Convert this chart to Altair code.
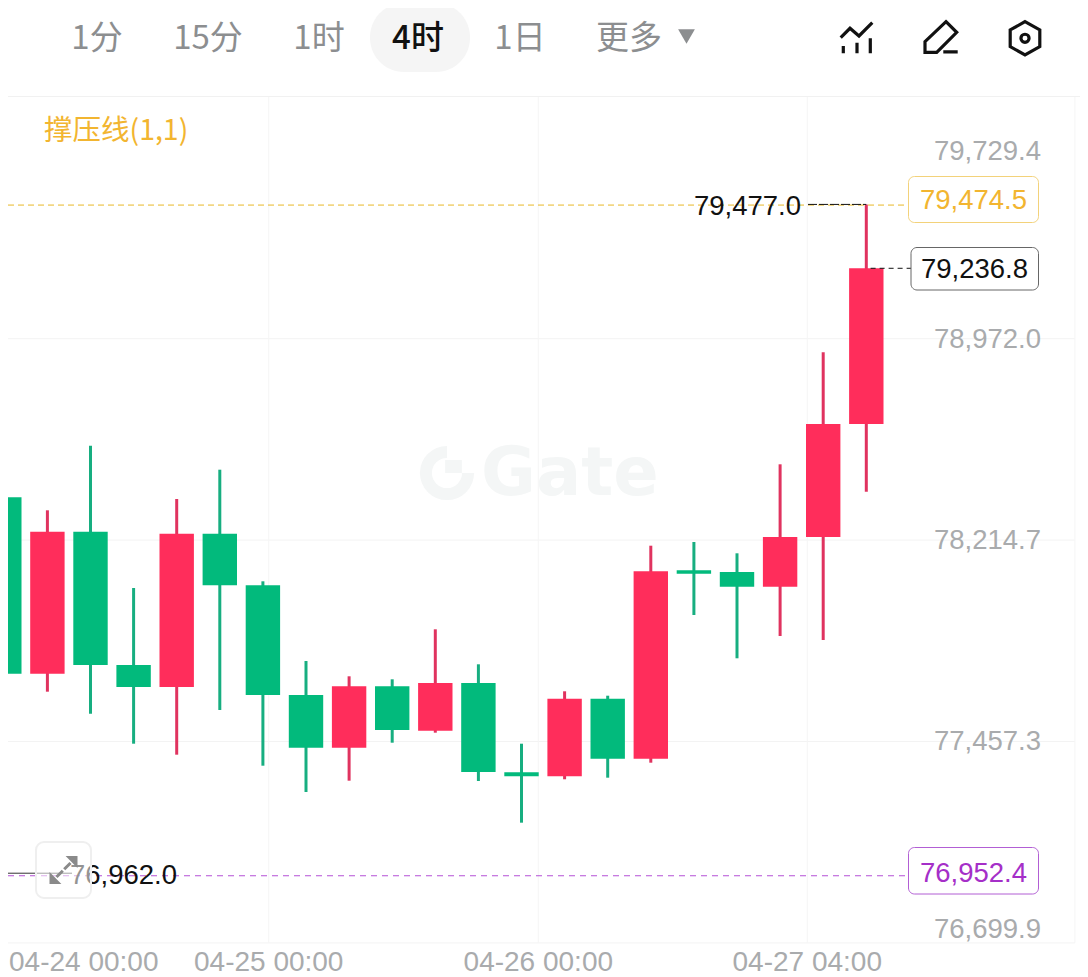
import altair as alt
import pandas as pd

# ---- chart values ----
opens  = [78375.6, 77712.3, 78246.2, 77745.0, 77662.3, 78238.7, 78044.7, 77632.2, 77434.0, 77664.9, 77497.9,
          77677.3, 77341.5, 77326.4, 77618.3, 77392.6, 78101.1, 78094.7, 78039.4, 78226.3, 78651.2]
closes = [77712.3, 78246.2, 77745.0, 77662.3, 78238.7, 78044.7, 77632.2, 77434.0, 77664.9, 77500.6, 77677.3,
          77342.6, 77326.4, 77618.3, 77392.6, 78097.3, 78088.3, 78039.4, 78226.3, 78651.2, 79236.8]
highs  = [78503.5, 78326.7, 78569.6, 78034.5, 78369.2, 78479.4, 78059.7, 77760.0, 77702.5, 77691.2, 77879.2,
          77747.6, 77449.0, 77646.1, 77629.5, 78193.6, 78207.5, 78165.0, 78499.7, 78920.9, 79477.0]
lows   = [76962.0, 77644.6, 77561.8, 77449.0, 77407.7, 77575.8, 77366.3, 77267.4, 77309.9, 77452.8, 77490.4,
          77308.8, 77152.0, 77315.2, 77321.2, 77377.6, 77933.0, 77770.2, 77854.0, 77839.0, 78396.7]

price_ticks = [79729.4, 78972.0, 78214.7, 77457.3, 76699.9]
grid_prices = [78972.0, 78214.7, 77457.3, 76699.9]
grid_top_price = 79880.9
time_labels = ["04-24 00:00", "04-25 00:00", "04-26 00:00", "04-27 04:00"]
time_ticks  = [-0.10, 6.135, 12.39, 18.63]
grid_end_tick = 24.84

last_price = 79236.8
high_price = 79477.0
low_price = 76962.0
resist_price = 79474.5
support_price = 76952.4

tabs = ["1分", "15分", "1时", "4时", "1日", "更多"]
tab_centers = [97, 208, 319, 418, 520, 629]

# ---- styles ----
UP, DOWN = "#FF2D5B", "#02BA7C"
UP_W, DOWN_W = "#E0335F", "#17AE80"
AMBER, PURPLE = "#F2B530", "#A52FC8"
TICK = "#A9ABAD"
WM = "#F4F6F6"
NUM_FONT = "Liberation Sans"
CJK = "Noto Sans CJK SC"
W, H = 1072, 969

xs = alt.Scale(domain=[0.0858, 24.9582], range=[0, W], nice=False, zero=False, padding=0)
ys = alt.Scale(domain=[76571.7, 80215.6], range=[H, 0], nice=False, zero=False, padding=0)
X = alt.X("i:Q", scale=xs, axis=None)
X2 = alt.X2("i2:Q")
Y = alt.Y("p:Q", scale=ys, axis=None)
Y2 = alt.Y2("p2:Q")


def px(v):
    return alt.value(v - 8)


def pxrect(x0, x1, y0, y1, **kw):
    return alt.Chart(pd.DataFrame({"a": [0]})).mark_rect(**kw).encode(
        x=px(x0), x2=px(x1), y=px(y0), y2=px(y1))


def label(text, x, price=None, y=None, **kw):
    d = {"t": [text]}
    enc = {"text": "t:N", "x": px(x)}
    if price is not None:
        d["p"] = [price]
        enc["y"] = Y
    else:
        enc["y"] = px(y)
    kw.setdefault("baseline", "middle")
    return alt.Chart(pd.DataFrame(d)).mark_text(**kw).encode(**enc)


def icon(path, cx, cy, half, **kw):
    return alt.Chart(pd.DataFrame({"a": [0]})).mark_point(shape=path, size=(2 * half) ** 2, opacity=1, **kw).encode(
        x=px(cx), y=px(cy))


layers = []

# ---- header ----
layers.append(pxrect(370, 470, 3, 72, fill="#F5F5F5", cornerRadius=34))
for name, c in zip(tabs, tab_centers):
    active = name == "4时"
    layers.append(label(name, c, y=39, align="center", font=CJK, fontSize=33,
                        fontWeight=500 if active else 400,
                        color="#111111" if active else "#8C8E90"))
layers.append(icon("M-0.7 -0.6L0.7 -0.6L0 0.6Z", 686.5, 36.5, 12, filled=True, fill="#8C8E90", strokeWidth=0))

# toolbar icons (normalised symbol paths)
layers.append(icon("M-0.815 -0.015L-0.35 -0.485L0.1 -0.1L0.765 -0.765 "
                   "M-0.685 0.4L-0.685 0.765 M0 0.235L0 0.765 M0.665 0.015L0.665 0.765",
                   857, 38, 20, filled=False, stroke="#111111", strokeWidth=3.2))
layers.append(icon("M0.2 -0.815L0.735 -0.285L-0.265 0.715L-0.85 0.715L-0.85 0.185Z "
                   "M0.065 0.69L0.785 0.69",
                   942, 38, 20, filled=False, stroke="#111111", strokeWidth=3.2))
layers.append(icon("M0 -0.9L0.8 -0.45L0.8 0.45L0 0.9L-0.8 0.45L-0.8 -0.45Z "
                   "M0.22 0A0.22 0.22 0 1 1 -0.22 0A0.22 0.22 0 1 1 0.22 0Z",
                   1025, 38.3, 18.5, filled=False, stroke="#111111", strokeWidth=3.2))
layers.append(pxrect(8, 1080, 96, 97, fill="#F1F1F1"))

# ---- grid ----
gh = pd.DataFrame({"p": grid_prices, "i": [0.0858] * len(grid_prices), "i2": [grid_end_tick] * len(grid_prices)})
layers.append(alt.Chart(gh).mark_rule(color="#F3F3F3", strokeWidth=1).encode(x=X, x2=X2, y=Y))
gv = pd.DataFrame({"i": time_ticks[1:] + [grid_end_tick], "p": [grid_top_price] * 4, "p2": [grid_prices[-1]] * 4})
layers.append(alt.Chart(gv).mark_rule(color="#F5F5F5", strokeWidth=1).encode(x=X, y=Y, y2=Y2))

# ---- watermark ----
layers.append(label("Gate", 481, y=475, align="left", font="DejaVu Sans", fontSize=67, fontWeight=700, color=WM))
layers.append(icon("M0 -0.78A0.78 0.78 0 1 0 0.78 0", 447, 473, 27, filled=False, stroke=WM, strokeWidth=12))
layers.append(icon("M-0.07 -0.48L0.55 -0.48L0.55 0L-0.07 0Z", 447, 473, 27, filled=True, fill=WM, strokeWidth=0))

# ---- indicator name ----
layers.append(label("撑压线(1,1)", 44, y=131, align="left", font=CJK, fontSize=28.5, color=AMBER))

# ---- support / resistance lines ----
lvl = pd.DataFrame({"p": [resist_price], "i": [0.0858], "i2": [(908.3 - 4.3) / 43.1]})
layers.append(alt.Chart(lvl).mark_rule(color="#E8B828", strokeWidth=1, strokeDash=[6, 4]).encode(x=X, x2=X2, y=Y))
lvl2 = pd.DataFrame({"p": [support_price], "i": [0.0858], "i2": [(908.3 - 4.3) / 43.1]})
layers.append(alt.Chart(lvl2).mark_rule(color="#B44FD6", strokeWidth=1, strokeDash=[6, 5]).encode(x=X, x2=X2, y=Y))

# ---- candles ----
df = pd.DataFrame({"i": list(range(len(opens))), "open": opens, "close": closes, "high": highs, "low": lows})
df["dir"] = ["up" if c >= o else "down" for o, c in zip(opens, closes)]
df["top"] = df[["open", "close"]].max(axis=1)
df["bot"] = df[["open", "close"]].min(axis=1)
layers.append(alt.Chart(df).mark_rule(strokeWidth=3).encode(
    x=X,
    y=alt.Y("low:Q", scale=ys, axis=None), y2="high:Q",
    color=alt.Color("dir:N", scale=alt.Scale(domain=["up", "down"], range=[UP_W, DOWN_W]), legend=None)))
layers.append(alt.Chart(df).mark_bar(size=34.4).encode(
    x=X,
    y=alt.Y("bot:Q", scale=ys, axis=None), y2="top:Q",
    fill=alt.Fill("dir:N", scale=alt.Scale(domain=["up", "down"], range=[UP, DOWN]), legend=None)))

# ---- high / low / last markers ----
layers.append(alt.Chart(pd.DataFrame({"p": [high_price], "i": [(808 - 4.3) / 43.1], "i2": [20.0]}))
              .mark_rule(color="#111111", strokeWidth=1, strokeDash=[9, 2]).encode(x=X, x2=X2, y=Y))
layers.append(label("79,477.0", 694, price=high_price, align="left", dy=3, font=NUM_FONT, fontSize=27.5, color="#111111"))
layers.append(alt.Chart(pd.DataFrame({"p": [low_price], "i": [0.0858], "i2": [(72 - 4.3) / 43.1]}))
              .mark_rule(color="#333333", strokeWidth=1).encode(x=X, x2=X2, y=Y))
layers.append(label("76,962.0", 70, price=low_price, align="left", dy=3, font=NUM_FONT, fontSize=27.5, color="#111111"))
layers.append(alt.Chart(pd.DataFrame({"p": [last_price], "i": [20.1], "i2": [(911 - 4.3) / 43.1]}))
              .mark_rule(color="#111111", strokeWidth=1, strokeDash=[5, 4]).encode(x=X, x2=X2, y=Y))

# ---- price labels ----
offsets = [15, 1, 1, 1, -13]
for v, off in zip(price_ticks, offsets):
    layers.append(label(f"{v:,.1f}", 1041, price=v, align="right", dy=off, font=NUM_FONT, fontSize=27.5, color=TICK))

# ---- price tags ----
layers.append(pxrect(908.5, 1038.5, 176.5, 222.5, fill="#FFFFFF", stroke="#F3D27A", strokeWidth=1, cornerRadius=6))
layers.append(label("79,474.5", 973.5, y=201, align="center", font=NUM_FONT, fontSize=27.5, color=AMBER))
layers.append(pxrect(911, 1038.5, 247.5, 290, fill="#FFFFFF", stroke="#666666", strokeWidth=1, cornerRadius=6))
layers.append(label("79,236.8", 974.5, y=270, align="center", font=NUM_FONT, fontSize=27.5, color="#111111"))
layers.append(pxrect(908.5, 1038.5, 847.5, 894, fill="#FFFFFF", stroke="#B25ED4", strokeWidth=1, cornerRadius=6))
layers.append(label("76,952.4", 973.5, y=873.5, align="center", font=NUM_FONT, fontSize=27.5, color=PURPLE))

# ---- expand button ----
layers.append(pxrect(36, 91, 842, 898, fill="#FFFFFF", fillOpacity=0.55, stroke="#EFEFEF", strokeWidth=2, cornerRadius=8))
layers.append(icon("M0.15 -1L1 -1L1 -0.15Z M-0.15 1L-1 1L-1 0.15Z", 63.5, 870, 14, filled=True, fill="#8A8A8A", strokeWidth=0))
layers.append(icon("M0.5 -0.5L0.05 -0.05 M-0.5 0.5L-0.05 0.05", 63.5, 870, 14, filled=False, stroke="#8A8A8A", strokeWidth=3))

# ---- time labels ----
layers.append(alt.Chart(pd.DataFrame({"t": time_labels[:1], "i": time_ticks[:1]})).mark_text(
    align="left", baseline="middle", dx=9, font=NUM_FONT, fontSize=28, color=TICK
).encode(text="t:N", x=X, y=px(962.5)))
layers.append(alt.Chart(pd.DataFrame({"t": time_labels[1:], "i": time_ticks[1:]})).mark_text(
    align="center", baseline="middle", font=NUM_FONT, fontSize=28, color=TICK
).encode(text="t:N", x=X, y=px(962.5)))

chart = alt.layer(*layers).properties(
    width=W, height=H, padding=0, autosize=alt.AutoSizeParams(type="none"), background="#FFFFFF"
).configure_view(stroke=None)

chart.save("out.html", embed_options={"renderer": "svg", "actions": False})
